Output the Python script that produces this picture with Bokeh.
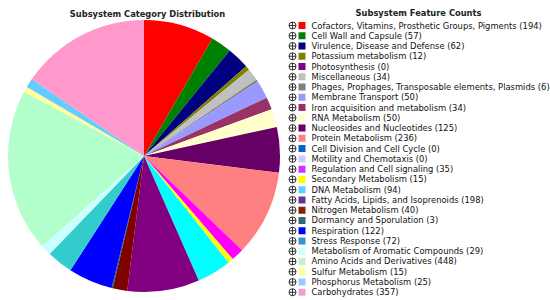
import math
from bokeh.plotting import figure
from bokeh.models import Range1d, ColumnDataSource
from bokeh.core.properties import value
from bokeh.embed import file_html
from bokeh.resources import INLINE

categories = [
    "Cofactors, Vitamins, Prosthetic Groups, Pigments",
    "Cell Wall and Capsule",
    "Virulence, Disease and Defense",
    "Potassium metabolism",
    "Photosynthesis",
    "Miscellaneous",
    "Phages, Prophages, Transposable elements, Plasmids",
    "Membrane Transport",
    "Iron acquisition and metabolism",
    "RNA Metabolism",
    "Nucleosides and Nucleotides",
    "Protein Metabolism",
    "Cell Division and Cell Cycle",
    "Motility and Chemotaxis",
    "Regulation and Cell signaling",
    "Secondary Metabolism",
    "DNA Metabolism",
    "Fatty Acids, Lipids, and Isoprenoids",
    "Nitrogen Metabolism",
    "Dormancy and Sporulation",
    "Respiration",
    "Stress Response",
    "Metabolism of Aromatic Compounds",
    "Amino Acids and Derivatives",
    "Sulfur Metabolism",
    "Phosphorus Metabolism",
    "Carbohydrates",
]
counts = [194, 57, 62, 12, 0, 34, 6, 50, 34, 50, 125, 236, 0, 0, 35, 15, 94,
          198, 40, 3, 122, 72, 29, 448, 15, 25, 357]

pie_colors = ["#FF0000", "#008000", "#000080", "#808000", "#800080", "#C0C0C0",
              "#808080", "#9999FF", "#993366", "#FFFFCC", "#660066", "#FF8080",
              "#0066CC", "#CCCCFF", "#FF00FF", "#FFFF00", "#00FFFF", "#800080",
              "#800000", "#006666", "#0000FF", "#33CCCC", "#CCFFFF", "#B3FFCC",
              "#FFFF99", "#66CCFF", "#FF99CC"]
legend_colors = ["#FF0000", "#008000", "#000080", "#808000", "#800080", "#C0C0C0",
                 "#808080", "#9999FF", "#993366", "#FFFFCC", "#660066", "#FF8080",
                 "#0066CC", "#CCCCFF", "#CC33FF", "#FFFF00", "#66CCFF", "#663399",
                 "#882200", "#336677", "#0000FF", "#3399CC", "#CCFFFF", "#CCEECC",
                 "#FFFF99", "#99CCFF", "#EEA0CC"]

W, H = 550, 300
p = figure(width=W, height=H, output_backend="svg", toolbar_location=None,
           x_range=Range1d(0, W), y_range=Range1d(0, H), min_border=0)
p.axis.visible = False
p.grid.visible = False
p.outline_line_color = None
p.background_fill_color = "white"
p.border_fill_color = "white"

# pie
total = sum(counts)
starts, ends, cols = [], [], []
cum = 0.0
for c, col in zip(counts, pie_colors):
    a0 = math.pi / 2 - 2 * math.pi * cum / total
    cum += c
    a1 = math.pi / 2 - 2 * math.pi * cum / total
    if c > 0:
        starts.append(a0); ends.append(a1); cols.append(col)
cx, cy, r = 143.5, H - 155.5, 136
pie = ColumnDataSource(dict(s=starts, e=ends, c=cols))
p.wedge(x=cx, y=cy, radius=r, start_angle="s", end_angle="e", direction="clock",
        fill_color="c", line_color=None, source=pie)

font = value("DejaVu Sans")
p.text(x=[147], y=[H - 13], text=["Subsystem Category Distribution"], text_font=font,
       text_font_size="8.3px", text_font_style="bold",
       text_align="center", text_baseline="middle", text_color="#222222")
p.text(x=[418], y=[H - 12.5], text=["Subsystem Feature Counts"], text_font=font,
       text_font_size="8.3px", text_font_style="bold",
       text_align="center", text_baseline="middle", text_color="#222222")

# legend
ys = [H - (25 + i * 10.26) for i in range(len(categories))]
labels = [f"{n} ({v})" for n, v in zip(categories, counts)]
leg = ColumnDataSource(dict(y=ys, t=labels, c=legend_colors))
p.scatter(x=292, y="y", marker="circle_cross", size=7, fill_color="white",
          line_color="#333333", line_width=1, source=leg)
p.rect(x=301.5, y="y", width=7, height=7, fill_color="c", line_color=None, source=leg)
p.text(x=311, y="y", text="t", text_font=font, text_font_size="8.4px",
       text_baseline="middle", text_color="#111111", source=leg)

open("out.html", "w").write(file_html(p, INLINE))
